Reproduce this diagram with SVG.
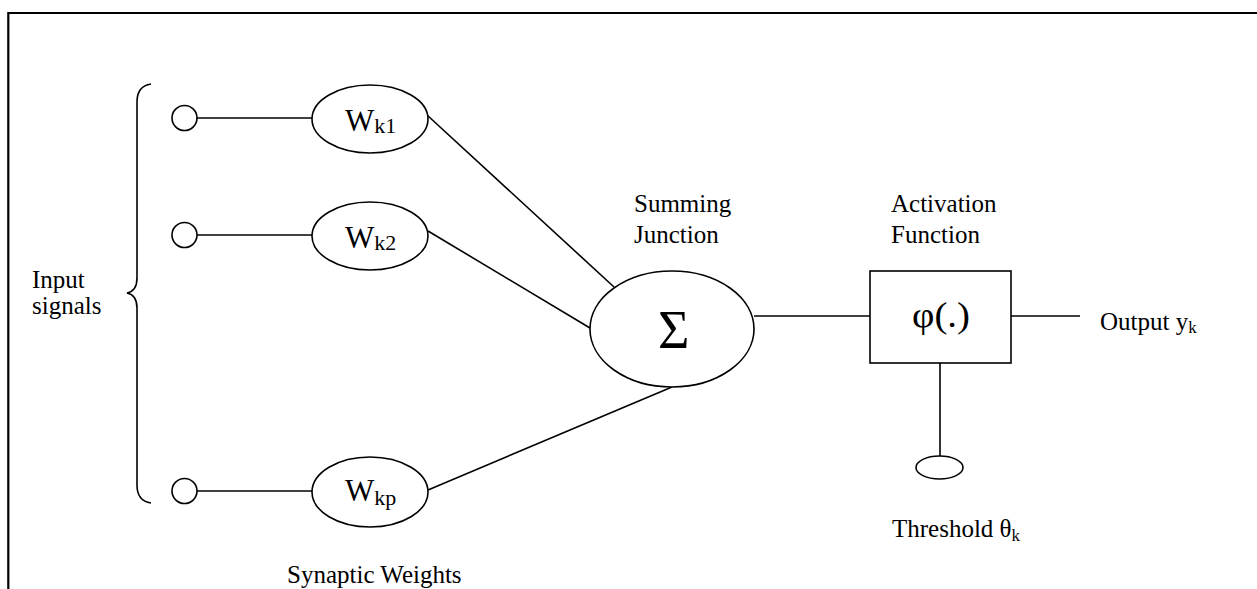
<svg xmlns="http://www.w3.org/2000/svg" width="1257" height="589" viewBox="0 0 1257 589">
<style>
.s{fill:none;stroke:#000;stroke-width:1.6}
.n{fill:#fff;stroke:#000;stroke-width:1.6}
.t{font-family:"Liberation Serif","Times New Roman",serif;font-size:25px;fill:#000}
.w{font-family:"Liberation Serif","Times New Roman",serif;font-size:31px;fill:#000}
.sub{font-size:22px}
.ss{font-size:17px}
</style>
<rect width="1257" height="589" fill="#fff"/>
<path d="M8.3 589 V13 H1257" fill="none" stroke="#000" stroke-width="2.2"/>
<g id="connectors">
<line class="s" x1="197" y1="118" x2="312" y2="118"/>
<line class="s" x1="197" y1="235" x2="312" y2="235"/>
<line class="s" x1="197" y1="491" x2="312" y2="491"/>
<line class="s" x1="427" y1="115" x2="614" y2="287"/>
<line class="s" x1="428" y1="231" x2="590" y2="328"/>
<line class="s" x1="428" y1="490" x2="672" y2="387"/>
<line class="s" x1="754" y1="316" x2="870" y2="316"/>
<line class="s" x1="1011" y1="316" x2="1080" y2="316"/>
<line class="s" x1="940" y1="363" x2="940" y2="456"/>
</g>
<g id="brace">
<path class="s" d="M151 84 Q137 86 137 102 V278 Q137 291 127 293 Q137 295 137 308 V485 Q137 501 151 503"/>
</g>
<g id="input-label">
<text class="t" x="32" y="288">Input</text>
<text class="t" x="32" y="314">signals</text>
</g>
<g id="in1"><circle class="n" cx="184.5" cy="118" r="12.5"/></g>
<g id="in2"><circle class="n" cx="184.5" cy="235" r="12.5"/></g>
<g id="inp"><circle class="n" cx="184.5" cy="491" r="12.5"/></g>
<g id="wk1">
<ellipse class="n" cx="370" cy="119" rx="58" ry="34"/>
<text class="w" x="345" y="131">W<tspan class="sub" dy="2">k1</tspan></text>
</g>
<g id="wk2">
<ellipse class="n" cx="370" cy="236" rx="58" ry="34"/>
<text class="w" x="345" y="248">W<tspan class="sub" dy="2">k2</tspan></text>
</g>
<g id="wkp">
<ellipse class="n" cx="370" cy="492" rx="58" ry="35"/>
<text class="w" x="345" y="501">W<tspan class="sub" dy="4">kp</tspan></text>
</g>
<g id="synaptic-label"><text class="t" x="287" y="583">Synaptic Weights</text></g>
<g id="sum">
<ellipse class="n" cx="672" cy="329" rx="82" ry="58"/>
<text font-family="Liberation Serif,serif" font-size="54" x="658" y="348">Σ</text>
</g>
<g id="sum-label">
<text class="t" x="634" y="212">Summing</text>
<text class="t" x="634" y="243">Junction</text>
</g>
<g id="activation">
<rect class="n" x="870" y="271" width="141" height="92"/>
<text font-family="Liberation Serif,serif" font-size="36" x="912" y="327" textLength="58" lengthAdjust="spacingAndGlyphs">φ(.)</text>
</g>
<g id="act-label">
<text class="t" x="891" y="212">Activation</text>
<text class="t" x="891" y="243">Function</text>
</g>
<g id="output-label">
<text class="t" x="1100" y="330">Output y<tspan class="ss" dy="3">k</tspan></text>
</g>
<g id="threshold">
<ellipse class="n" cx="939.5" cy="467.5" rx="23.5" ry="11.5"/>
</g>
<g id="threshold-label">
<text class="t" x="892" y="537">Threshold θ<tspan class="ss" dy="4">k</tspan></text>
</g>
</svg>
